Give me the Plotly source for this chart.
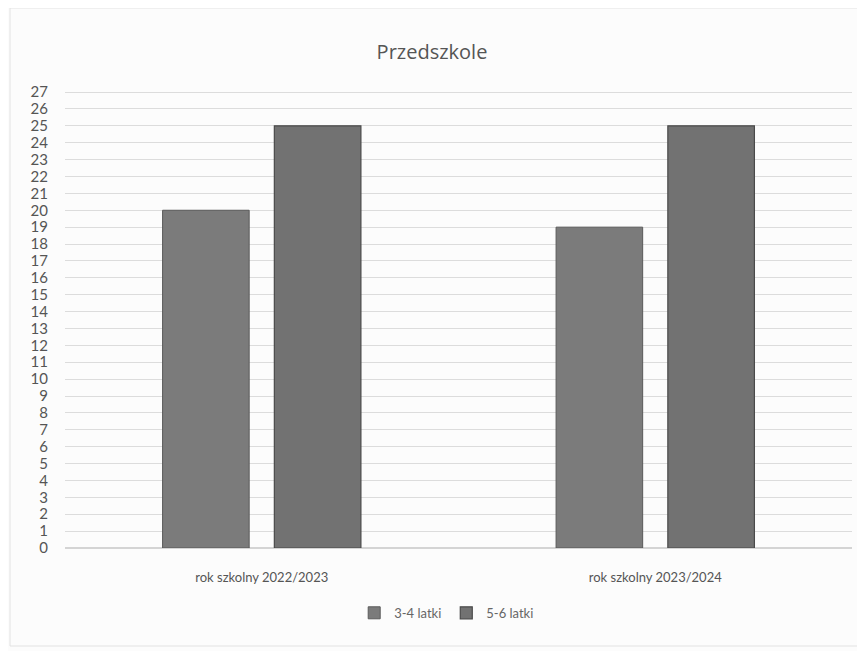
import plotly.graph_objects as go

categories = ["rok szkolny 2022/2023", "rok szkolny 2023/2024"]
series_names = ["3-4 latki", "5-6 latki"]
values_34 = [20, 19]
values_56 = [25, 25]
y_ticks = list(range(0, 28))

fig = go.Figure()
fig.add_trace(go.Bar(
    x=categories, y=values_34, name=series_names[0],
    width=0.22, offset=-0.252,
    marker=dict(color="#7b7b7b", line=dict(color="#5a5a5a", width=1)),
))
fig.add_trace(go.Bar(
    x=categories, y=values_56, name=series_names[1],
    width=0.22, offset=0.032,
    marker=dict(color="#727272", line=dict(color="#4a4a4a", width=1.2)),
))

# page body has an 8px margin, so the figure is offset by 8px; compensate in margins
fig.update_layout(
    width=865, height=651,
    barmode="overlay",
    paper_bgcolor="#fcfcfc",
    plot_bgcolor="#fcfcfc",
    margin=dict(l=57, r=21, t=80, b=111, autoexpand=False),
    title=dict(text="Przedszkole", x=(432 - 8) / 865, xanchor="center", y=1 - 44 / 651, yanchor="middle",
               font=dict(family="Open Sans, Lato, sans-serif", size=20, color="#555555")),
    font=dict(family="Lato, Open Sans, sans-serif", color="#555555"),
    legend=dict(orientation="h", x=0.485, xanchor="center", y=-0.141, yanchor="middle",
                font=dict(size=13, color="#666666"), itemwidth=30, bgcolor="rgba(0,0,0,0)"),
    showlegend=True,
    shapes=[dict(type="rect", xref="paper", yref="paper", x0=-55 / 787, x1=1 + 6 / 787,
                 y0=-98 / 460, y1=1 + 80 / 460, line=dict(color="#e2e2e2", width=1))],
)
fig.update_xaxes(
    range=[-0.5, 1.5], showgrid=False, showline=False, zeroline=False, automargin=False,
    tickfont=dict(size=13, color="#555555"), ticklabelstandoff=20, ticks="",
)
fig.update_yaxes(
    range=[0, 27.24], tickmode="array", tickvals=y_ticks, ticktext=[str(v) for v in y_ticks],
    showgrid=True, gridcolor="#dcdcdc", gridwidth=1, zeroline=True, zerolinecolor="#d4d4d4",
    showline=False, automargin=False,
    tickfont=dict(size=15, color="#555555"), ticklabelstandoff=16, ticks="",
)

fig.write_html("out.html")
